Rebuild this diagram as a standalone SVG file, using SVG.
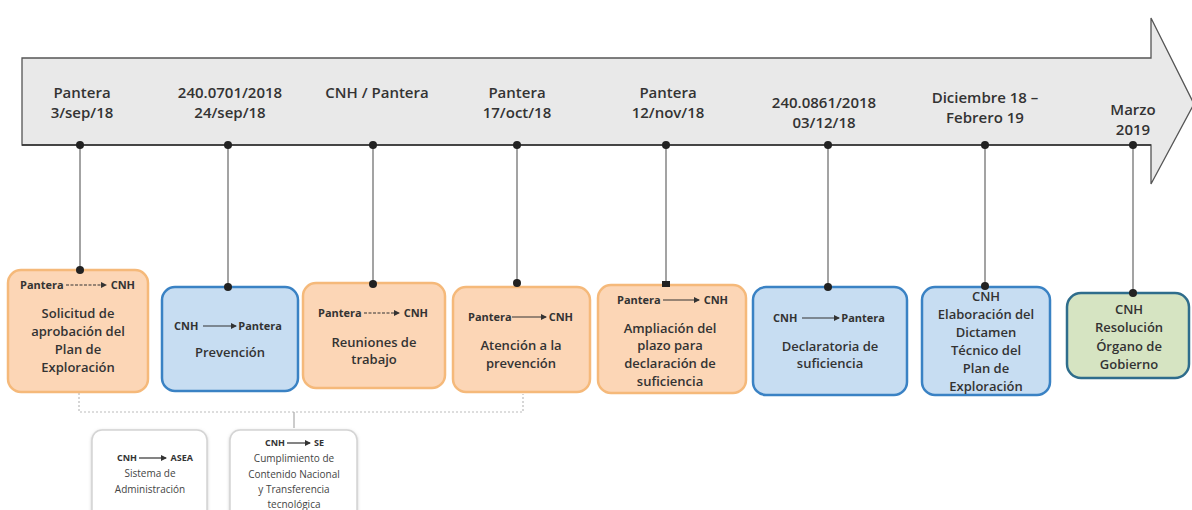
<svg xmlns="http://www.w3.org/2000/svg" width="1192" height="510" viewBox="0 0 1192 510">
<style>
text{font-family:"Open Sans","Liberation Sans",sans-serif;fill:#333;}
.tl{font-size:15px;font-weight:600;text-anchor:middle;}
.bt{font-size:13px;font-weight:600;text-anchor:middle;}
.hd{font-size:11px;font-weight:700;}
.st{font-size:10px;text-anchor:middle;fill:#444;}
.sh{font-size:9px;font-weight:700;}
.or{fill:#fcd6b6;stroke:#f5b97a;stroke-width:2.5;}
.bl{fill:#c7ddf2;stroke:#3a82c4;stroke-width:2.5;}
.gr{fill:#d6e4c2;stroke:#2f6d8c;stroke-width:2.5;}
.wb{fill:#fff;stroke:#d4d4d4;stroke-width:1.5;}
.vl{stroke:#666;stroke-width:1.2;fill:none;}
.dt{fill:#222;}
.ha{stroke:#333;stroke-width:1.2;marker-end:url(#ah);}
.dl{stroke:#bbb;stroke-width:1.2;stroke-dasharray:2 2;fill:none;}
</style>
<defs>
<marker id="ah" markerWidth="6" markerHeight="6" refX="5" refY="3" orient="auto" markerUnits="userSpaceOnUse">
<path d="M0,0 L6,3 L0,6 Z" fill="#333"/>
</marker>
<filter id="sh" x="-10%" y="-10%" width="120%" height="120%">
<feDropShadow dx="0" dy="1" stdDeviation="1.5" flood-color="#999" flood-opacity="0.5"/>
</filter>
</defs>
<rect width="1192" height="510" fill="#fff"/>

<g id="timeline-arrow">
<polygon points="22,58 1151,58 1151,18 1194,104 1151,184 1151,145 22,145" fill="#e9e9e9" stroke="#555" stroke-width="1.3"/>
<line x1="22" y1="145" x2="1151" y2="145" stroke="#333" stroke-width="1.5"/>
</g>

<g id="timeline-labels">
<text class="tl" x="82" y="98">Pantera</text>
<text class="tl" x="82" y="118">3/sep/18</text>
<text class="tl" x="230" y="98">240.0701/2018</text>
<text class="tl" x="230" y="118">24/sep/18</text>
<text class="tl" x="377" y="98">CNH / Pantera</text>
<text class="tl" x="517" y="98">Pantera</text>
<text class="tl" x="517" y="118">17/oct/18</text>
<text class="tl" x="668" y="98">Pantera</text>
<text class="tl" x="668" y="118">12/nov/18</text>
<text class="tl" x="824" y="108">240.0861/2018</text>
<text class="tl" x="824" y="128">03/12/18</text>
<text class="tl" x="985" y="103">Diciembre 18 –</text>
<text class="tl" x="985" y="123">Febrero 19</text>
<text class="tl" x="1133" y="115">Marzo</text>
<text class="tl" x="1133" y="135">2019</text>
</g>

<g id="connectors">
<line class="vl" x1="80" y1="145" x2="80" y2="270"/>
<line class="vl" x1="228" y1="145" x2="228" y2="287"/>
<line class="vl" x1="373" y1="145" x2="373" y2="284"/>
<line class="vl" x1="517" y1="145" x2="517" y2="283"/>
<line class="vl" x1="666" y1="145" x2="666" y2="284"/>
<line class="vl" x1="828" y1="145" x2="828" y2="287"/>
<line class="vl" x1="985" y1="145" x2="985" y2="285"/>
<line class="vl" x1="1133" y1="145" x2="1133" y2="293"/>
<circle class="dt" cx="80" cy="145" r="4"/>
<circle class="dt" cx="228" cy="145" r="4"/>
<circle class="dt" cx="373" cy="145" r="4"/>
<circle class="dt" cx="517" cy="145" r="4"/>
<circle class="dt" cx="666" cy="145" r="4"/>
<circle class="dt" cx="828" cy="145" r="4"/>
<circle class="dt" cx="985" cy="145" r="4"/>
<circle class="dt" cx="1133" cy="145" r="4"/>
<polyline class="dl" points="79,393 79,412 523,412 523,394"/>
<line x1="294" y1="412" x2="294" y2="428" stroke="#aaa" stroke-width="1.2"/>
</g>

<g id="box1">
<rect class="or" x="8" y="270" width="140" height="122" rx="13"/>
<text class="hd" x="20" y="289">Pantera</text>
<line class="ha" x1="66" y1="285" x2="106" y2="285" stroke-dasharray="3 1.5"/>
<text class="hd" x="135" y="289" text-anchor="end">CNH</text>
<text class="bt" x="78" y="318">Solicitud de</text>
<text class="bt" x="78" y="336">aprobación del</text>
<text class="bt" x="78" y="354">Plan de</text>
<text class="bt" x="78" y="372">Exploración</text>
<circle class="dt" cx="80" cy="270" r="4"/>
</g>

<g id="box2">
<rect class="bl" x="162" y="287" width="136" height="104" rx="13"/>
<text class="hd" x="174" y="330">CNH</text>
<line class="ha" x1="203" y1="326" x2="236" y2="326"/>
<text class="hd" x="282" y="330" text-anchor="end">Pantera</text>
<text class="bt" x="230" y="357">Prevención</text>
<circle class="dt" cx="228" cy="287" r="4"/>
</g>

<g id="box3">
<rect class="or" x="303" y="283" width="142" height="105" rx="13"/>
<text class="hd" x="318" y="317">Pantera</text>
<line class="ha" x1="364" y1="313" x2="399" y2="313" stroke-dasharray="3 1.5"/>
<text class="hd" x="428" y="317" text-anchor="end">CNH</text>
<text class="bt" x="374" y="347">Reuniones de</text>
<text class="bt" x="374" y="364">trabajo</text>
<circle class="dt" cx="373" cy="284" r="4"/>
</g>

<g id="box4">
<rect class="or" x="453" y="287" width="137" height="105" rx="13"/>
<text class="hd" x="468" y="321">Pantera</text>
<line class="ha" x1="512" y1="317" x2="546" y2="317"/>
<text class="hd" x="573" y="321" text-anchor="end">CNH</text>
<text class="bt" x="521" y="350">Atención a la</text>
<text class="bt" x="521" y="368">prevención</text>
<circle class="dt" cx="517" cy="283" r="4"/>
</g>

<g id="box5">
<rect class="or" x="598" y="285" width="148" height="108" rx="13"/>
<text class="hd" x="617" y="304">Pantera</text>
<line class="ha" x1="663" y1="300" x2="699" y2="300"/>
<text class="hd" x="728" y="304" text-anchor="end">CNH</text>
<text class="bt" x="670" y="333">Ampliación del</text>
<text class="bt" x="670" y="350">plazo para</text>
<text class="bt" x="670" y="368">declaración de</text>
<text class="bt" x="670" y="386">suficiencia</text>
<rect x="662" y="281" width="8" height="6" fill="#222"/>
</g>

<g id="box6">
<rect class="bl" x="753" y="287" width="154" height="108" rx="13"/>
<text class="hd" x="773" y="322">CNH</text>
<line class="ha" x1="802" y1="318" x2="839" y2="318"/>
<text class="hd" x="885" y="322" text-anchor="end">Pantera</text>
<text class="bt" x="830" y="351">Declaratoria de</text>
<text class="bt" x="830" y="368">suficiencia</text>
<circle class="dt" cx="828" cy="287" r="4"/>
</g>

<g id="box7">
<rect class="bl" x="922" y="287" width="128" height="108" rx="13"/>
<text class="bt" x="986" y="301">CNH</text>
<text class="bt" x="986" y="319">Elaboración del</text>
<text class="bt" x="986" y="337">Dictamen</text>
<text class="bt" x="986" y="355">Técnico del</text>
<text class="bt" x="986" y="373">Plan de</text>
<text class="bt" x="986" y="391">Exploración</text>
<circle class="dt" cx="985" cy="286" r="4"/>
</g>

<g id="box8">
<rect class="gr" x="1067" y="293" width="122" height="85" rx="14"/>
<text class="bt" x="1129" y="314">CNH</text>
<text class="bt" x="1129" y="332">Resolución</text>
<text class="bt" x="1129" y="351">Órgano de</text>
<text class="bt" x="1129" y="369">Gobierno</text>
<circle class="dt" cx="1133" cy="293" r="4"/>
</g>

<g id="boxA">
<rect class="wb" x="92" y="430" width="115" height="90" rx="10" filter="url(#sh)"/>
<text class="sh" x="117" y="461">CNH</text>
<line class="ha" x1="139" y1="458" x2="166" y2="458"/>
<text class="sh" x="193" y="461" text-anchor="end">ASEA</text>
<text class="st" x="150" y="477">Sistema de</text>
<text class="st" x="150" y="493">Administración</text>
</g>

<g id="boxB">
<rect class="wb" x="230" y="430" width="127" height="90" rx="10" filter="url(#sh)"/>
<text class="sh" x="265" y="446">CNH</text>
<line class="ha" x1="287" y1="443" x2="310" y2="443"/>
<text class="sh" x="324" y="446" text-anchor="end">SE</text>
<text class="st" x="294" y="462">Cumplimiento de</text>
<text class="st" x="294" y="478">Contenido Nacional</text>
<text class="st" x="294" y="493">y Transferencia</text>
<text class="st" x="294" y="508">tecnológica</text>
</g>
</svg>
